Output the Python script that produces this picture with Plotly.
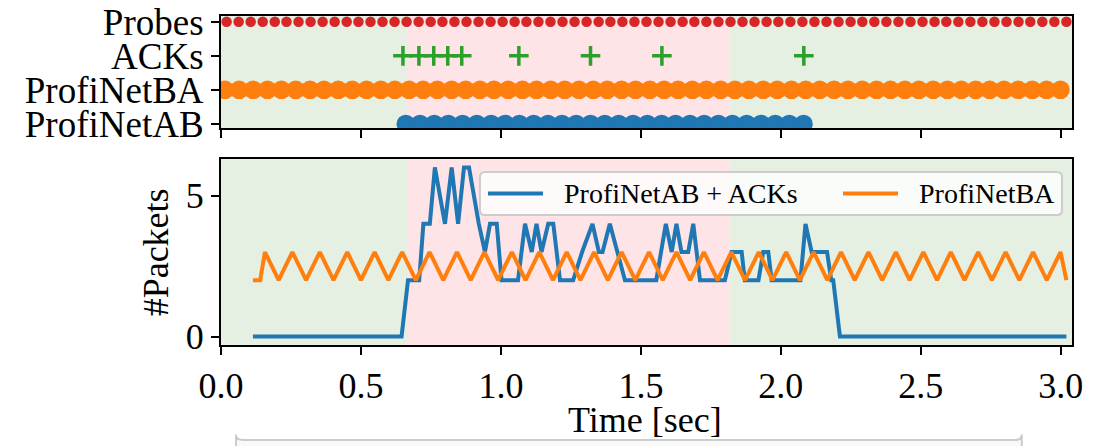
import plotly.graph_objects as go

# ---------------- data ----------------
lane_labels = ["ProfiNetAB", "ProfiNetBA", "ACKs", "Probes"]

probe_t = [0.020, 0.063, 0.106, 0.149, 0.192, 0.234, 0.277, 0.320, 0.363, 0.406,
           0.449, 0.491, 0.534, 0.577, 0.620, 0.663, 0.706, 0.749, 0.791, 0.834,
           0.877, 0.920, 0.963, 1.006, 1.049, 1.091, 1.134, 1.177, 1.220, 1.263,
           1.306, 1.349, 1.391, 1.434, 1.477, 1.520, 1.563, 1.606, 1.649, 1.691,
           1.734, 1.777, 1.820, 1.863, 1.906, 1.949, 1.991, 2.034, 2.077, 2.120,
           2.163, 2.206, 2.249, 2.291, 2.334, 2.377, 2.420, 2.463, 2.506, 2.549,
           2.591, 2.634, 2.677, 2.720, 2.763, 2.806, 2.849, 2.891, 2.934, 2.977,
           3.020]

ack_t = [0.650, 0.707, 0.760, 0.810, 0.860, 1.064, 1.320, 1.575, 2.082]

ba_t = [0.014, 0.065, 0.115, 0.166, 0.216, 0.267, 0.318, 0.368, 0.419, 0.469,
        0.520, 0.571, 0.621, 0.672, 0.722, 0.773, 0.824, 0.874, 0.925, 0.975,
        1.026, 1.077, 1.127, 1.178, 1.228, 1.279, 1.330, 1.380, 1.431, 1.481,
        1.532, 1.583, 1.633, 1.684, 1.734, 1.785, 1.836, 1.886, 1.937, 1.987,
        2.038, 2.089, 2.139, 2.190, 2.240, 2.291, 2.342, 2.392, 2.443, 2.493,
        2.544, 2.595, 2.645, 2.696, 2.746, 2.797, 2.848, 2.898, 2.949, 2.999]

ab_t = [0.660, 0.711, 0.762, 0.812, 0.863, 0.914, 0.965, 1.015, 1.066, 1.117,
        1.168, 1.218, 1.269, 1.320, 1.371, 1.421, 1.472, 1.523, 1.574, 1.624,
        1.675, 1.726, 1.777, 1.827, 1.878, 1.929, 1.980, 2.030, 2.081]

blue_t = [0.114, 0.645, 0.668, 0.708, 0.723, 0.746, 0.764, 0.800, 0.824, 0.847,
          0.868, 0.886, 0.921, 0.943, 0.961, 0.985, 1.002, 1.061, 1.086, 1.110,
          1.127, 1.145, 1.169, 1.187, 1.211, 1.258, 1.290, 1.327, 1.350, 1.363,
          1.389, 1.443, 1.555, 1.589, 1.610, 1.627, 1.645, 1.669, 1.687, 1.711,
          1.800, 1.824, 1.860, 1.871, 1.920, 1.937, 1.955, 1.967, 2.070, 2.088,
          2.110, 2.125, 2.165, 2.180, 2.187, 2.211, 3.020]
blue_v = [0, 0, 2, 2, 4, 4, 6, 4, 6, 4,
          6, 6, 4, 3, 4, 4, 2, 2, 4, 3,
          4, 3, 4, 4, 2, 2, 3, 4, 3, 3,
          4, 2, 2, 4, 3, 4, 3, 3, 4, 2,
          2, 3, 3, 2, 2, 3, 3, 2, 2, 4,
          3, 3, 3, 2, 2, 0, 0]

orange_t = [0.114, 0.140,
            0.157, 0.206, 0.255, 0.304, 0.353, 0.402, 0.451, 0.500, 0.549, 0.598,
            0.647, 0.696, 0.745, 0.794, 0.843, 0.892, 0.941, 0.990, 1.039, 1.088,
            1.137, 1.186, 1.235, 1.284, 1.333, 1.382, 1.431, 1.480, 1.529, 1.578,
            1.627, 1.676, 1.725, 1.774, 1.823, 1.872, 1.921, 1.970, 2.019, 2.068,
            2.117, 2.166, 2.215, 2.264, 2.313, 2.362, 2.411, 2.460, 2.509, 2.558,
            2.607, 2.656, 2.705, 2.754, 2.803, 2.852, 2.901, 2.950, 2.999, 3.020]
orange_v = [2, 2,
            3, 2, 3, 2, 3, 2, 3, 2, 3, 2,
            3, 2, 3, 2, 3, 2, 3, 2, 3, 2,
            3, 2, 3, 2, 3, 2, 3, 2, 3, 2,
            3, 2, 3, 2, 3, 2, 3, 2, 3, 2,
            3, 2, 3, 2, 3, 2, 3, 2, 3, 2,
            3, 2, 3, 2, 3, 2, 3, 2, 3, 2]

series_names = ["ProfiNetAB + ACKs", "ProfiNetBA"]

phase_edges = [0.0, 0.664, 1.818, 3.04]
phase_colors = ["#e5f0e3", "#fee4e6", "#e5f0e3"]

x_ticks = [0.0, 0.5, 1.0, 1.5, 2.0, 2.5, 3.0]
y_ticks_bottom = [0, 5]

# ---------------- style ----------------
FONT = "Liberation Serif"
C_BLUE = "#1f77b4"
C_ORANGE = "#ff7f0e"
C_GREEN = "#2ca02c"
C_RED = "#d62728"

lane_idx = {name: i for i, name in enumerate(lane_labels)}

fig = go.Figure()

# top panel: event lanes
fig.add_trace(go.Scatter(x=probe_t, y=[lane_idx["Probes"]] * len(probe_t), mode="markers",
                         marker=dict(color=C_RED, size=10.5, line=dict(width=0)),
                         xaxis="x", yaxis="y", showlegend=False))
fig.add_trace(go.Scatter(x=ack_t, y=[lane_idx["ACKs"]] * len(ack_t), mode="markers",
                         marker=dict(color=C_GREEN, size=14, symbol="cross-thin",
                                     line=dict(width=3.5, color=C_GREEN)),
                         xaxis="x", yaxis="y", showlegend=False))
fig.add_trace(go.Scatter(x=ba_t, y=[lane_idx["ProfiNetBA"]] * len(ba_t), mode="markers",
                         marker=dict(color=C_ORANGE, size=18.5, line=dict(width=0)),
                         xaxis="x", yaxis="y", showlegend=False))
fig.add_trace(go.Scatter(x=ab_t, y=[lane_idx["ProfiNetAB"]] * len(ab_t), mode="markers",
                         marker=dict(color=C_BLUE, size=18.5, line=dict(width=0)),
                         xaxis="x", yaxis="y", showlegend=False))

# bottom panel: packet counts
fig.add_trace(go.Scatter(x=blue_t, y=blue_v, mode="lines", name=series_names[0],
                         line=dict(color=C_BLUE, width=4), showlegend=False,
                         xaxis="x2", yaxis="y2"))
fig.add_trace(go.Scatter(x=orange_t, y=orange_v, mode="lines", name=series_names[1],
                         line=dict(color=C_ORANGE, width=4), showlegend=False,
                         xaxis="x2", yaxis="y2"))

shapes = []
for xr, yr in (("x", "y domain"), ("x2", "y2 domain")):
    for i, col in enumerate(phase_colors):
        shapes.append(dict(type="rect", xref=xr, yref=yr,
                           x0=phase_edges[i], x1=phase_edges[i + 1], y0=0, y1=1,
                           fillcolor=col, line=dict(width=0), layer="below"))


def rounded_box(x0, y0, x1, y1, rx=0.006, ry=0.0155):
    return (f"M {x0 + rx},{y0} L {x1 - rx},{y0} Q {x1},{y0} {x1},{y0 + ry} "
            f"L {x1},{y1 - ry} Q {x1},{y1} {x1 - rx},{y1} "
            f"L {x0 + rx},{y1} Q {x0},{y1} {x0},{y1 - ry} "
            f"L {x0},{y0 + ry} Q {x0},{y0} {x0 + rx},{y0} Z")


# legend drawn inside the bottom panel (matplotlib style, long line samples)
shapes.append(dict(type="path", xref="paper", yref="paper",
                   path=rounded_box(0.3043, 0.3951, 0.9882, 0.5258),
                   fillcolor="rgba(255,255,255,0.8)",
                   line=dict(color="#cccccc", width=2), layer="above"))
shapes.append(dict(type="line", xref="paper", yref="paper",
                   x0=0.3137, x1=0.3784, y0=0.4605, y1=0.4605,
                   line=dict(color=C_BLUE, width=4), layer="above"))
shapes.append(dict(type="line", xref="paper", yref="paper",
                   x0=0.7309, x1=0.7955, y0=0.4605, y1=0.4605,
                   line=dict(color=C_ORANGE, width=4), layer="above"))

# partially visible box at the very bottom of the figure
shapes.append(dict(type="path", xref="paper", yref="paper",
                   path="M 0.0176,-0.40 L 0.0176,-0.272 Q 0.0176,-0.2886 0.026,-0.2886 "
                        "L 0.933,-0.2886 Q 0.941,-0.2886 0.941,-0.272 L 0.941,-0.40 Z",
                   fillcolor="#f9f9f9", line=dict(color="#cccccc", width=2), layer="above"))

axis_common = dict(showline=True, linecolor="black", linewidth=2, mirror=True,
                   ticks="outside", ticklen=8, tickwidth=2, tickcolor="black",
                   showgrid=False, zeroline=False, ticklabeloverflow="allow",
                   automargin=False)
tick_font = dict(family=FONT, size=36, color="black")
lane_font = dict(family=FONT, size=37, color="black")

annotations = [
    dict(text="Time [sec]", xref="paper", yref="paper", x=0.498, y=-0.228,
         xanchor="center", yanchor="middle", showarrow=False,
         font=dict(family=FONT, size=36, color="black")),
    dict(text="#Packets", xref="paper", yref="paper", x=-0.077, y=0.283,
         xanchor="center", yanchor="middle", showarrow=False, textangle=-90,
         font=dict(family=FONT, size=36, color="black")),
    dict(text=series_names[0], xref="paper", yref="paper", x=0.4007, y=0.4605,
         xanchor="left", yanchor="middle", showarrow=False,
         font=dict(family=FONT, size=28, color="black")),
    dict(text=series_names[1], xref="paper", yref="paper", x=0.8179, y=0.4605,
         xanchor="left", yanchor="middle", showarrow=False,
         font=dict(family=FONT, size=28, color="black")),
]

# the page body has an 8px default margin, so the figure is drawn 8px smaller
fig.update_layout(
    width=1107, height=438,
    margin=dict(l=213, r=43, t=8, b=101, autoexpand=False),
    paper_bgcolor="white", plot_bgcolor="white",
    font=dict(family=FONT, size=36, color="black"),
    shapes=shapes,
    annotations=annotations,
    showlegend=False,
    xaxis=dict(domain=[0, 1], anchor="y", range=[0, 3.04],
               tickvals=x_ticks, showticklabels=False, tickfont=tick_font,
               **axis_common),
    yaxis=dict(domain=[0.6596, 1.0], anchor="x",
               tickvals=list(range(len(lane_labels))), ticktext=lane_labels,
               range=[-0.12, 3.17], tickfont=lane_font, **axis_common),
    xaxis2=dict(domain=[0, 1], anchor="y2", range=[0, 3.04],
                tickvals=x_ticks, tickformat=".1f", tickfont=tick_font,
                **axis_common),
    yaxis2=dict(domain=[0, 0.5653], anchor="x2", range=[-0.3, 6.3],
                tickvals=y_ticks_bottom, tickfont=tick_font, **axis_common),
)

fig.write_html("out.html")
